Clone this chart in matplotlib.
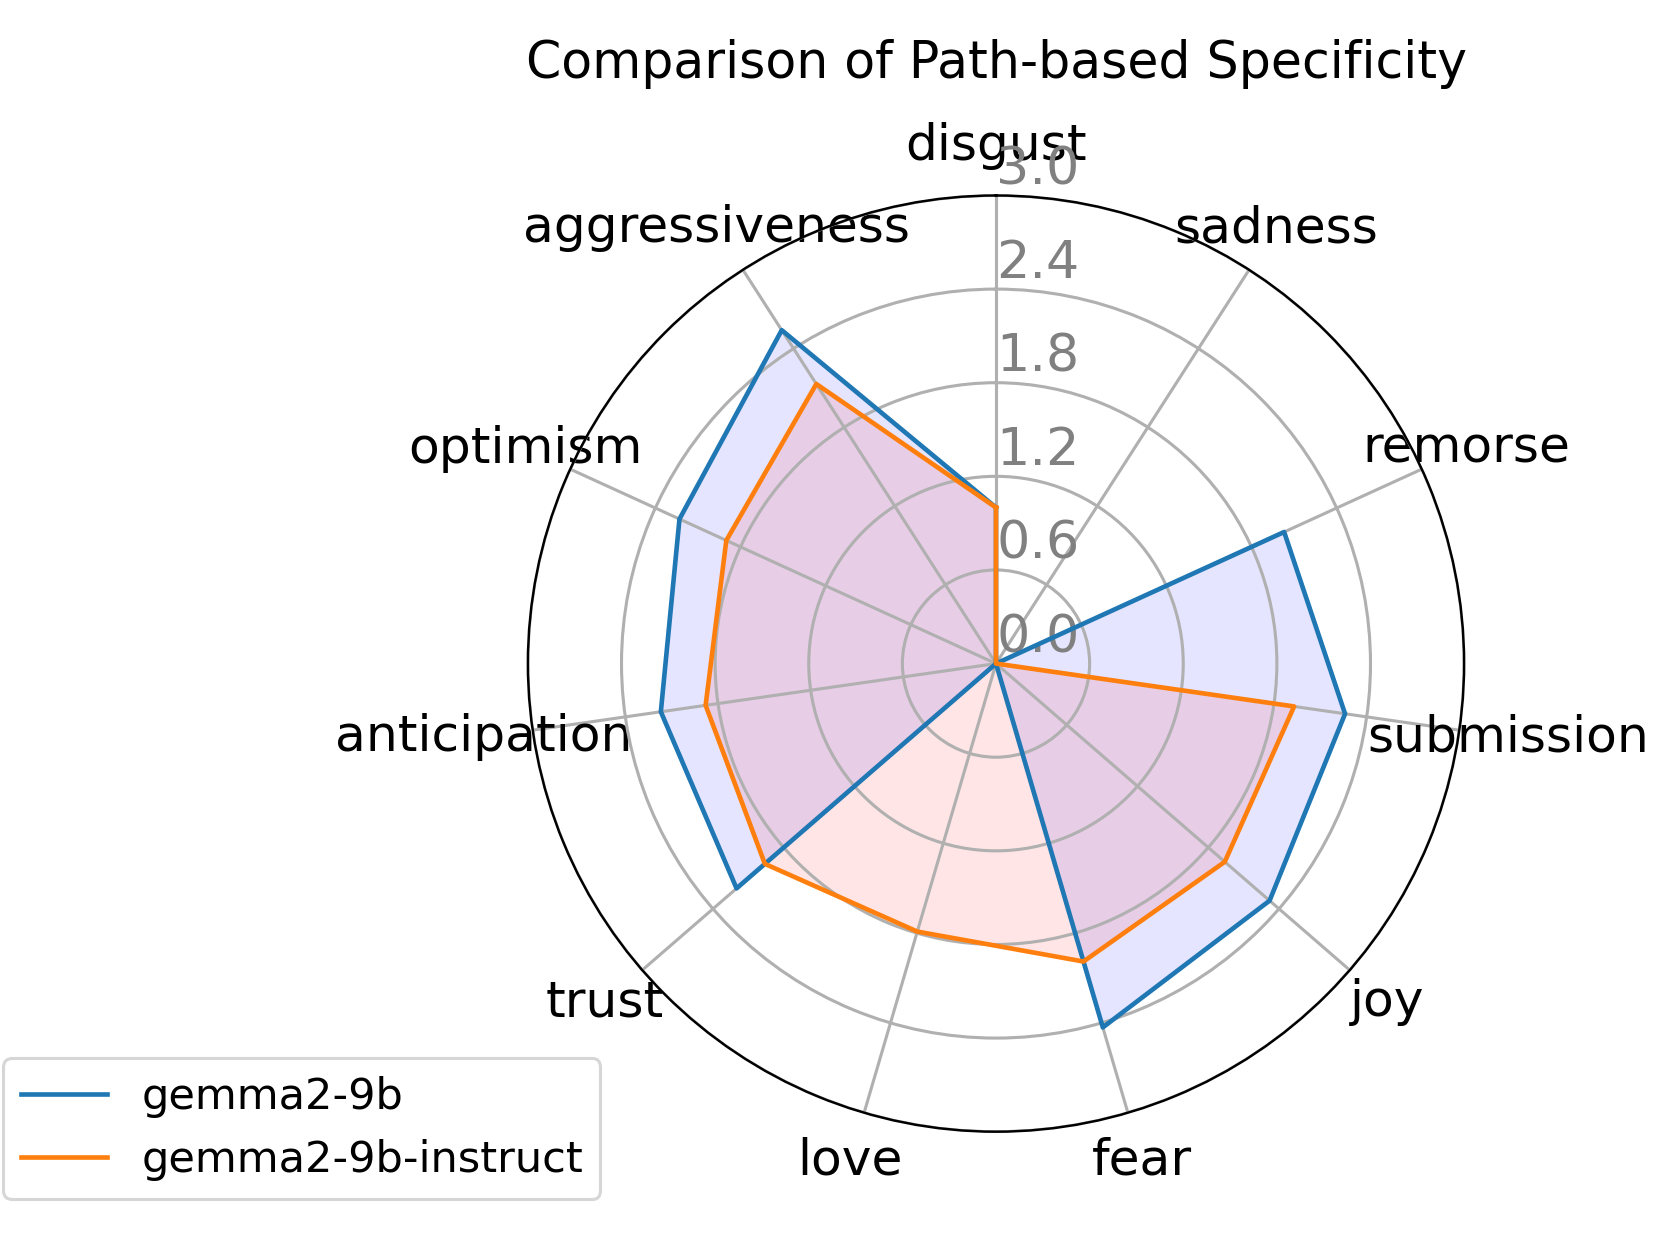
import numpy as np
import matplotlib
matplotlib.use("Agg")
import matplotlib.pyplot as plt

# categories, clockwise from the top
emotions = ['disgust', 'sadness', 'remorse', 'submission', 'joy', 'fear',
            'love', 'trust', 'anticipation', 'optimism', 'aggressiveness']
gemma_base = [1.0, 0.0, 2.03, 2.26, 2.32, 2.43, 0.0, 2.20, 2.17, 2.23, 2.54]
gemma_instruct = [1.0, 0.0, 0.0, 1.93, 1.94, 1.99, 1.79, 1.96, 1.88, 1.90, 2.13]
series_names = ['gemma2-9b', 'gemma2-9b-instruct']
r_ticks = [0.0, 0.6, 1.2, 1.8, 2.4, 3.0]

n = len(emotions)
angles = np.linspace(0, 2 * np.pi, n, endpoint=False).tolist()
angles += angles[:1]

def closed(vals):
    return list(vals) + [vals[0]]

fig = plt.figure(figsize=(1660 / 222, 1245 / 222), dpi=222)
ax = fig.add_axes([0.318, 0.091, 0.564, 0.752], polar=True)
ax.set_theta_offset(np.pi / 2)
ax.set_theta_direction(-1)

ax.plot(angles, closed(gemma_base), color='C0', linewidth=1.5, label=series_names[0])
ax.fill(angles, closed(gemma_base), color='blue', alpha=0.1)
ax.plot(angles, closed(gemma_instruct), color='C1', linewidth=1.5, label=series_names[1])
ax.fill(angles, closed(gemma_instruct), color='red', alpha=0.1)

ax.set_xticks(angles[:-1])
ax.set_xticklabels(emotions, fontsize=16.3)
ax.tick_params(axis='x', pad=5.5)
ax.set_ylim(0, 3.0)
ax.set_yticks(r_ticks)
ax.set_yticklabels([f'{t:.1f}' for t in r_ticks], fontsize=17, color='grey')
ax.set_rlabel_position(0)
ax.grid(color='#b0b0b0', linewidth=1.0)

ax.set_title('Comparison of Path-based Specificity', fontsize=16.4, pad=38)

fig.legend(loc='lower left', bbox_to_anchor=(-0.011, 0.02), fontsize=14)

fig.savefig('out.png', dpi=222)
